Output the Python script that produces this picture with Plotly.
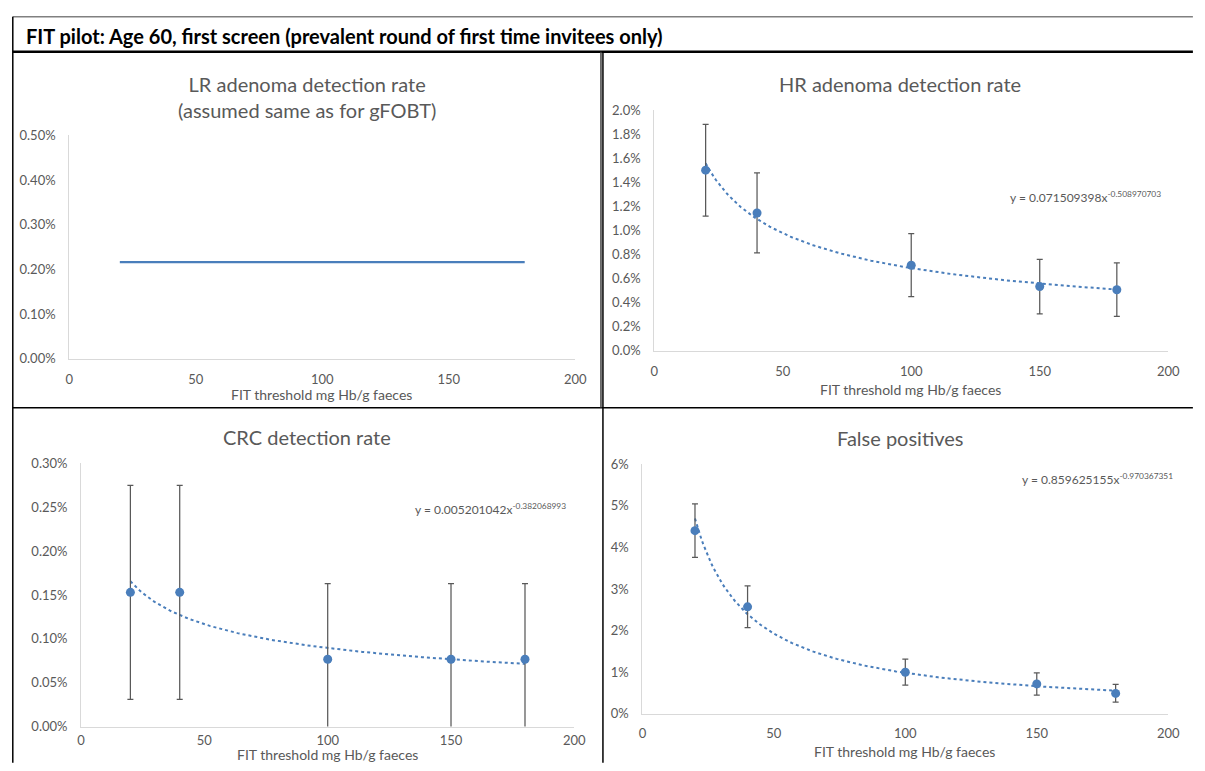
import numpy as np
import plotly.graph_objects as go

# The page body keeps its default 8px margin, so the figure is sized so that
# figure + margins fill the 1205x771 window exactly.
PAGE_W, PAGE_H = 1205, 771
BODY_M = 8
W, H = PAGE_W - 2 * BODY_M, PAGE_H - 2 * BODY_M

# ---------------- data ----------------
thresholds = [20, 40, 100, 150, 180]

lr_rate = [0.00216, 0.00216, 0.00216, 0.00216, 0.00216]

hr_rate = [0.01500, 0.01144, 0.00710, 0.00534, 0.00507]
hr_upper = [0.01881, 0.01477, 0.00973, 0.00759, 0.00729]
hr_lower = [0.01119, 0.00813, 0.00450, 0.00306, 0.00285]
hr_fit_a, hr_fit_b = 0.071509398, -0.508970703

crc_rate = [0.00153, 0.00153, 0.000767, 0.000767, 0.000767]
crc_err = [0.00122, 0.00122, 0.000863, 0.000863, 0.000863]
crc_fit_a, crc_fit_b = 0.005201042, -0.382068993

fp_rate = [0.04405, 0.02574, 0.01002, 0.00720, 0.00493]
fp_upper = [0.05047, 0.03075, 0.01315, 0.00986, 0.00712]
fp_lower = [0.03764, 0.02073, 0.00689, 0.00454, 0.00282]
fp_fit_a, fp_fit_b = 0.859625155, -0.970367351

x_ticks = [0, 50, 100, 150, 200]

main_title = "FIT pilot: Age 60, first screen (prevalent round of first time invitees only)"
panel_titles = ["LR adenoma detection rate<br>(assumed same as for gFOBT)",
                "HR adenoma detection rate", "CRC detection rate", "False positives"]
x_title = "FIT threshold mg Hb/g faeces"

# ---------------- styling ----------------
FONT = "Lato, Carlito, Calibri, sans-serif"
BLUE = "#4a7ebb"
GREY_TXT = "#595959"
AXIS_GREY = "#d9d9d9"
ERR_GREY = "#595959"


def px(x):
    return (x - BODY_M) / W


def py(y):
    return 1 - (y - BODY_M) / H


fig = go.Figure()

# panel geometry in window pixels: (x0_px, x200_px, ybottom_px, ytop_px)
panels = [
    (66, 579, 358, 130),
    (659, 1180, 350, 104),
    (78, 578, 734, 465),
    (647, 1180, 721, 466),
]
yranges = [[0, 0.005], [0, 0.02], [0, 0.003], [0, 0.06]]
ydtick = [0.001, 0.002, 0.0005, 0.01]
yfmt = [".2%", ".1%", ".2%", ".0%"]
xstandoff = [9, 9, 2, 8]

for i, (x0, x1, yb, yt) in enumerate(panels):
    n = "" if i == 0 else str(i + 1)
    fig.layout["xaxis" + n] = dict(
        domain=[px(x0), px(x1)], range=[0, 200], tickvals=x_ticks,
        showgrid=False, zeroline=False, showline=True, linecolor=AXIS_GREY,
        linewidth=1, ticks="", ticklabelstandoff=xstandoff[i],
        tickfont=dict(family=FONT, size=13, color=GREY_TXT),
        anchor="y" + n, fixedrange=True,
    )
    fig.layout["yaxis" + n] = dict(
        domain=[py(yb), py(yt)], range=yranges[i], dtick=ydtick[i], tick0=0,
        tickformat=yfmt[i], showgrid=False, zeroline=False, showline=True,
        linecolor=AXIS_GREY, linewidth=1, ticks="", ticklabelstandoff=10,
        tickfont=dict(family=FONT, size=13, color=GREY_TXT),
        anchor="x" + n, fixedrange=True,
    )

fit_x = np.linspace(thresholds[0], thresholds[-1], 200)

# Panel 1: LR adenoma
fig.add_trace(go.Scatter(x=thresholds, y=lr_rate, mode="lines",
                         line=dict(color=BLUE, width=2.25),
                         xaxis="x", yaxis="y", showlegend=False))

# Panel 2: HR adenoma
fig.add_trace(go.Scatter(x=fit_x, y=hr_fit_a * fit_x ** hr_fit_b, mode="lines",
                         line=dict(color=BLUE, width=2, dash="dot"),
                         xaxis="x2", yaxis="y2", showlegend=False))
fig.add_trace(go.Scatter(
    x=thresholds, y=hr_rate, mode="markers",
    marker=dict(color=BLUE, size=9),
    error_y=dict(type="data", symmetric=False,
                 array=[u - v for u, v in zip(hr_upper, hr_rate)],
                 arrayminus=[v - l for v, l in zip(hr_rate, hr_lower)],
                 color=ERR_GREY, thickness=1.25, width=3),
    xaxis="x2", yaxis="y2", showlegend=False))

# Panel 3: CRC
fig.add_trace(go.Scatter(x=fit_x, y=crc_fit_a * fit_x ** crc_fit_b, mode="lines",
                         line=dict(color=BLUE, width=2, dash="dot"),
                         xaxis="x3", yaxis="y3", showlegend=False))
fig.add_trace(go.Scatter(
    x=thresholds, y=crc_rate, mode="markers",
    marker=dict(color=BLUE, size=9),
    error_y=dict(type="data", array=crc_err, color=ERR_GREY,
                 thickness=1.25, width=3),
    xaxis="x3", yaxis="y3", showlegend=False))

# Panel 4: False positives
fig.add_trace(go.Scatter(x=fit_x, y=fp_fit_a * fit_x ** fp_fit_b, mode="lines",
                         line=dict(color=BLUE, width=2, dash="dot"),
                         xaxis="x4", yaxis="y4", showlegend=False))
fig.add_trace(go.Scatter(
    x=thresholds, y=fp_rate, mode="markers",
    marker=dict(color=BLUE, size=9),
    error_y=dict(type="data", symmetric=False,
                 array=[u - v for u, v in zip(fp_upper, fp_rate)],
                 arrayminus=[v - l for v, l in zip(fp_rate, fp_lower)],
                 color=ERR_GREY, thickness=1.25, width=3),
    xaxis="x4", yaxis="y4", showlegend=False))

annotations = []
# main title
annotations.append(dict(text="<b>" + main_title + "</b>", x=px(20), y=py(28.5),
                        xref="paper", yref="paper", xanchor="left", yanchor="middle",
                        showarrow=False, font=dict(family=FONT, size=20, color="#000000")))
# panel titles
title_pos = [(307, 91), (908, 77), (307, 438), (908, 439)]
for t, (tx, ty) in zip(panel_titles, title_pos):
    annotations.append(dict(text=t, x=px(tx), y=py(ty), xref="paper", yref="paper",
                            xanchor="center", yanchor="middle", showarrow=False,
                            font=dict(family=FONT, size=20, color=GREY_TXT)))
# x-axis titles
xt_pos = [(322, 395), (919, 390), (328, 762), (913, 759)]
for tx, ty in xt_pos:
    annotations.append(dict(text=x_title, x=px(tx), y=py(ty), xref="paper", yref="paper",
                            xanchor="center", yanchor="middle", showarrow=False,
                            font=dict(family=FONT, size=14, color=GREY_TXT)))
# equations
eqs = [(hr_fit_a, hr_fit_b, 1175, 193), (crc_fit_a, crc_fit_b, 572, 512),
       (fp_fit_a, fp_fit_b, 1187, 481)]
for a, b, ex, ey in eqs:
    annotations.append(dict(text=f"y = {a:.9f}x<sup>{b:.9f}</sup>", x=px(ex), y=py(ey),
                            xref="paper", yref="paper", xanchor="right", yanchor="middle",
                            showarrow=False, font=dict(family=FONT, size=12, color=GREY_TXT)))

shapes = []


def line(x0, y0, x1, y1, color="#000000", width=2):
    shapes.append(dict(type="line", xref="paper", yref="paper",
                       x0=px(x0), y0=py(y0), x1=px(x1), y1=py(y1),
                       line=dict(color=color, width=width)))


# title bar
line(8.7, 8.8, 1205, 8.8, "#808080", 1.5)
line(8.7, 44.5, 1205, 44.5, "#000000", 2.5)
line(8.8, 8.8, 8.8, 771, "#000000", 1.5)
# panel dividers
line(607, 44.5, 607, 771, "#000000", 1.5)
line(8.7, 408.3, 1205, 408.3, "#000000", 1.5)
line(605, 44.5, 605, 408.3, "#404040", 1.5)

fig.update_layout(
    width=W, height=H, margin=dict(l=0, r=0, t=0, b=0),
    paper_bgcolor="white", plot_bgcolor="white",
    annotations=annotations, shapes=shapes, showlegend=False,
    font=dict(family=FONT, color=GREY_TXT),
)

fig.write_html("out.html", config={"displayModeBar": False})
